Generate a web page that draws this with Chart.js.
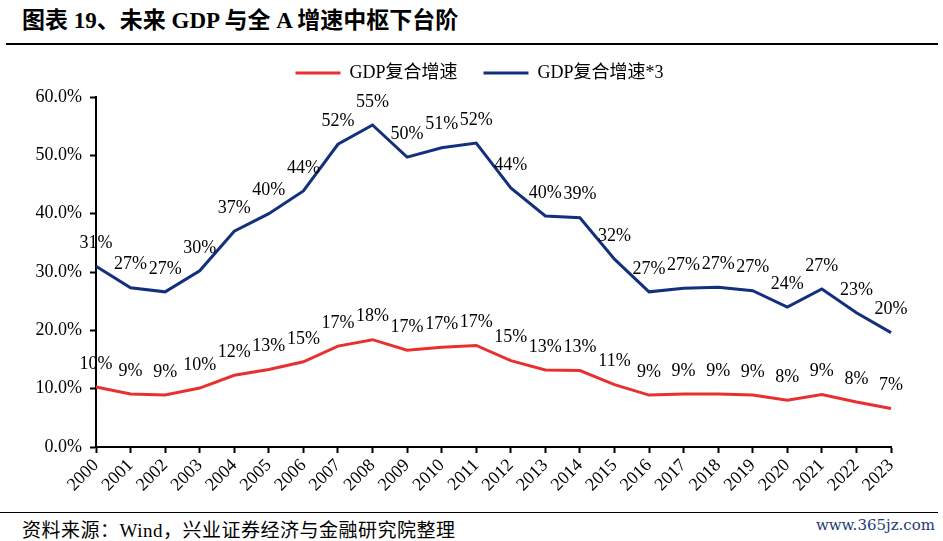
<!DOCTYPE html>
<html>
<head>
<meta charset="utf-8">
<script src="https://cdn.jsdelivr.net/npm/chart.js@4.4.0/dist/chart.umd.min.js"></script>
<style>
  body { margin: 0; background: #fff; width: 943px; height: 541px; position: relative; overflow: hidden; }
  #title { position: absolute; left: 22px; top: 1px; font: bold 23px "Liberation Serif", "Noto Sans CJK SC", serif; color: #000; white-space: nowrap; }
  #topline { position: absolute; left: 6px; right: 5px; top: 43px; height: 0; border-top: 2px solid #000; }
  #botline { position: absolute; left: 0; right: 5px; top: 512px; height: 0; border-top: 1px solid #000; }
  #source { position: absolute; left: 22px; top: 515px; font: 19px "Liberation Serif", "Noto Sans CJK SC", serif; letter-spacing: 0.5px; color: #000; white-space: nowrap; }
  #mark { position: absolute; right: 8px; top: 516px; font: 15px "DejaVu Serif", serif; color: #1d3a78; }
  #wrap { position: absolute; left: 0; top: 38px; width: 943px; height: 474px; }
</style>
</head>
<body>
<div id="title">图表 19、未来 GDP 与全 A 增速中枢下台阶</div>
<div id="topline"></div>
<div id="wrap"><canvas id="myChart"></canvas></div>
<div id="botline"></div>
<div id="source">资料来源：Wind，兴业证券经济与金融研究院整理</div>
<div id="mark">www.365jz.com</div>

<script>
// ************** data *****************
var years = ["2000", "2001", "2002", "2003", "2004", "2005", "2006", "2007", "2008", "2009", "2010", "2011",
  "2012", "2013", "2014", "2015", "2016", "2017", "2018", "2019", "2020", "2021", "2022", "2023"];

// GDP复合增速 (%)
var gdpGrowth = [10.3, 9.1, 8.9, 10.1, 12.3, 13.3, 14.6, 17.3, 18.4, 16.6, 17.1, 17.4,
  14.8, 13.2, 13.1, 10.7, 8.9, 9.1, 9.1, 8.9, 8.0, 9.0, 7.7, 6.6];

// GDP复合增速*3 (%)
var gdpGrowth3 = [31.0, 27.3, 26.6, 30.2, 37.0, 40.0, 43.9, 51.9, 55.2, 49.7, 51.3, 52.1,
  44.4, 39.6, 39.3, 32.2, 26.6, 27.2, 27.4, 26.8, 24.0, 27.1, 23.0, 19.6];

var yTicks = [0, 10, 20, 30, 40, 50, 60];

var serif = '"Liberation Serif", "Noto Sans CJK SC", serif';

// labels above each point, e.g. "31%"
var pointLabels = {
  id: 'pointLabels',
  afterDatasetsDraw: function(chart) {
    var ctx = chart.ctx;
    ctx.save();
    ctx.font = '18px ' + serif;
    ctx.fillStyle = '#000';
    ctx.textAlign = 'center';
    ctx.textBaseline = 'middle';
    chart.data.datasets.forEach(function(ds, i) {
      chart.getDatasetMeta(i).data.forEach(function(pt, j) {
        ctx.fillText(Math.round(ds.data[j]) + '%', pt.x, pt.y - 23);
      });
    });
    ctx.restore();
  }
};

// fixed legend height so the plot top lands where it should
var legendHeight = {
  id: 'legendHeight',
  beforeInit: function(chart) {
    var fit = chart.legend.fit;
    chart.legend.fit = function() {
      fit.call(this);
      this.height = 59;
    };
  }
};

var myChart = new Chart(document.getElementById("myChart").getContext("2d"), {
  type: 'line',
  data: {
    labels: years,
    datasets: [{
      label: 'GDP复合增速',
      data: gdpGrowth,
      borderColor: '#e8302f',
      backgroundColor: '#e8302f',
      borderWidth: 3,
      pointRadius: 0,
      tension: 0
    }, {
      label: 'GDP复合增速*3',
      data: gdpGrowth3,
      borderColor: '#13307f',
      backgroundColor: '#13307f',
      borderWidth: 3,
      pointRadius: 0,
      tension: 0
    }]
  },
  options: {
    responsive: true,
    maintainAspectRatio: false,
    animation: false,
    layout: { padding: { left: 16, right: 0, top: 0, bottom: 0 } },
    plugins: {
      tooltip: { enabled: false },
      legend: {
        position: 'top',
        labels: {
          usePointStyle: true,
          pointStyle: 'line',
          pointStyleWidth: 45,
          padding: 26,
          color: '#000',
          font: { family: serif, size: 18 }
        }
      }
    },
    scales: {
      x: {
        offset: false,
        border: { display: true, color: '#000', width: 2 },
        grid: { display: true, drawOnChartArea: false, drawTicks: true, tickLength: 6, tickColor: '#000', tickWidth: 2, offset: false },
        ticks: { color: '#000', font: { family: serif, size: 18 }, minRotation: 45, maxRotation: 45, autoSkip: false, padding: 2 },
        afterFit: function(scale) { scale.height = 65; }
      },
      y: {
        min: 0,
        max: 60,
        border: { display: true, color: '#000', width: 2 },
        grid: { display: true, drawOnChartArea: false, drawTicks: true, tickLength: 6, tickColor: '#000', tickWidth: 2 },
        afterBuildTicks: function(scale) {
          scale.ticks = yTicks.map(function(v) { return { value: v }; });
        },
        ticks: {
          color: '#000',
          font: { family: serif, size: 18 },
          padding: 8,
          callback: function(v) { return v.toFixed(1) + '%'; }
        },
        afterFit: function(scale) { scale.width = 80; }
      },
      // empty right-hand spacer so the plot ends at 2023 like the original
      yRight: {
        position: 'right',
        display: true,
        min: 0,
        max: 60,
        border: { display: false },
        grid: { display: false },
        ticks: { display: false },
        afterFit: function(scale) { scale.width = 52; }
      }
    }
  },
  plugins: [pointLabels, legendHeight]
});
</script>
</body>
</html>
